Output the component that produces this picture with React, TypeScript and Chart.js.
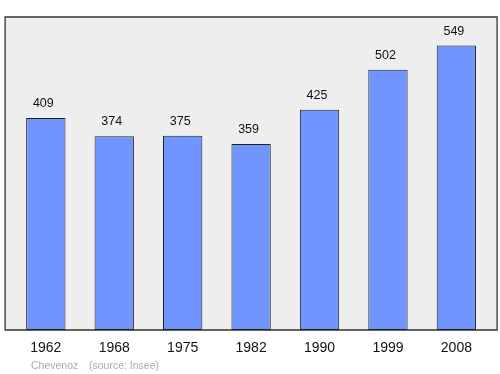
import React, { useEffect, useRef } from "react";
import { Chart, registerables } from "chart.js";

Chart.register(...registerables);

const years = ["1962", "1968", "1975", "1982", "1990", "1999", "2008"];
const population = [409, 374, 375, 359, 425, 502, 549];
const footerPlace = "Chevenoz";
const footerSource = "(source: Insee)";

const FONT = "'Liberation Sans', Arial, sans-serif";

const framePlugin = {
  id: "frame",
  beforeDraw(chart: any) {
    const { ctx, chartArea } = chart;
    ctx.save();
    ctx.fillStyle = "#eeeeee";
    ctx.strokeStyle = "#333333";
    ctx.lineWidth = 1.3;
    const x = chartArea.left - 6.5;
    const y = chartArea.top;
    const w = chartArea.right - chartArea.left + 13;
    const h = chartArea.bottom - chartArea.top;
    ctx.beginPath();
    ctx.rect(x, y, w, h);
    ctx.fill();
    ctx.stroke();
    ctx.restore();
  },
  afterDatasetsDraw(chart: any) {
    const { ctx } = chart;
    const meta = chart.getDatasetMeta(0);
    ctx.save();
    ctx.fillStyle = "#111111";
    ctx.font = `12.5px ${FONT}`;
    ctx.textAlign = "center";
    ctx.textBaseline = "alphabetic";
    meta.data.forEach((bar: any, i: number) => {
      ctx.fillText(String(population[i]), bar.x - 2.5, bar.y - 11);
    });
    ctx.fillStyle = "#aaaaaa";
    ctx.font = `10.5px ${FONT}`;
    ctx.textAlign = "left";
    ctx.fillText(footerPlace, 31, 368.5);
    ctx.fillText(footerSource, 89, 368.5);
    ctx.restore();
  },
};

export default function App() {
  const ref = useRef<HTMLCanvasElement>(null);
  useEffect(() => {
    if (!ref.current) return;
    const chart = new Chart(ref.current, {
      type: "bar",
      data: {
        labels: years,
        datasets: [
          {
            data: population,
            backgroundColor: "#7095ff",
            borderColor: "#222222",
            borderWidth: 1,
            borderSkipped: false,
            barPercentage: 0.575,
            categoryPercentage: 1,
          },
        ],
      },
      options: {
        animation: false,
        responsive: false,
        maintainAspectRatio: false,
        layout: { padding: { left: 11.6, right: 9.4, top: 17, bottom: 14 } },
        plugins: {
          legend: { display: false },
          tooltip: { enabled: false },
        },
        scales: {
          x: {
            offset: true,
            grid: { display: false, drawTicks: false },
            border: { display: false },
            ticks: {
              color: "#111111",
              font: { size: 14, family: FONT },
              padding: 9.5,
            },
            afterFit: (scale: any) => {
              scale.height = 30;
            },
          },
          y: {
            display: false,
            min: 0,
            max: 604,
          },
        },
      },
      plugins: [framePlugin],
    });
    return () => chart.destroy();
  }, []);
  return (
    <div style={{ position: "fixed", left: 0, top: 0, width: 500, height: 374, background: "#fff" }}>
      <canvas ref={ref} width={500} height={374} style={{ width: 500, height: 374 }} />
    </div>
  );
}
